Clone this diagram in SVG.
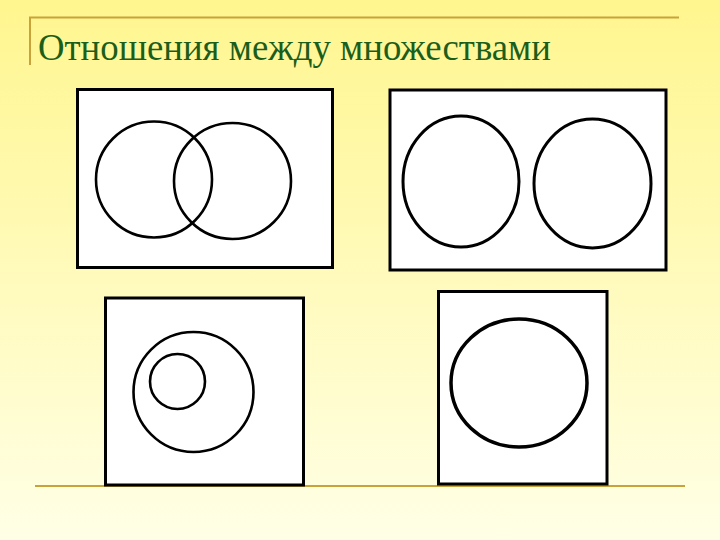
<svg xmlns="http://www.w3.org/2000/svg" width="720" height="540" viewBox="0 0 720 540">
  <defs>
    <linearGradient id="bg" x1="0" y1="0" x2="0" y2="1">
      <stop offset="0" stop-color="#FFF68F"/>
      <stop offset="1" stop-color="#FFFFE6"/>
    </linearGradient>
    <style>
      .box { fill: #FFFFFF; stroke: #000000; stroke-width: 3; }
      .set { fill: none; stroke: #000000; stroke-width: 2.6; }
      .rule { stroke: #C9A23A; stroke-width: 2; fill: none; }
      .title { font-family: "Liberation Serif", "Times New Roman", serif; font-size: 37px; fill: #1B5E1B; }
    </style>
  </defs>
  <rect x="0" y="0" width="720" height="540" fill="url(#bg)"/>

  <g id="frame">
    <polyline class="rule" points="30,65 30,17.5 679,17.5"/>
    <line class="rule" x1="35" y1="486" x2="685" y2="486"/>
  </g>

  <text class="title" x="38" y="60" textLength="513" lengthAdjust="spacingAndGlyphs">Отношения между множествами</text>

  <g id="intersecting">
    <rect class="box" x="77.5" y="89.5" width="255" height="178"/>
    <ellipse class="set" cx="154" cy="179.5" rx="58" ry="58"/>
    <ellipse class="set" cx="232.5" cy="181" rx="58.5" ry="58"/>
  </g>

  <g id="disjoint">
    <rect class="box" x="390" y="90" width="276" height="180"/>
    <ellipse class="set" style="stroke-width:3" cx="461" cy="181.5" rx="58" ry="65.5"/>
    <ellipse class="set" style="stroke-width:3" cx="592.5" cy="183.5" rx="58.5" ry="64.5"/>
  </g>

  <g id="subset">
    <rect class="box" x="105.5" y="298" width="198" height="187"/>
    <circle class="set" cx="193.5" cy="392" r="60"/>
    <circle class="set" cx="177.5" cy="381.5" r="27.5"/>
  </g>

  <g id="equal">
    <rect class="box" x="438.5" y="291.5" width="168.5" height="192.5"/>
    <ellipse class="set" style="stroke-width:3.5" cx="519" cy="383" rx="68" ry="64"/>
  </g>
</svg>
